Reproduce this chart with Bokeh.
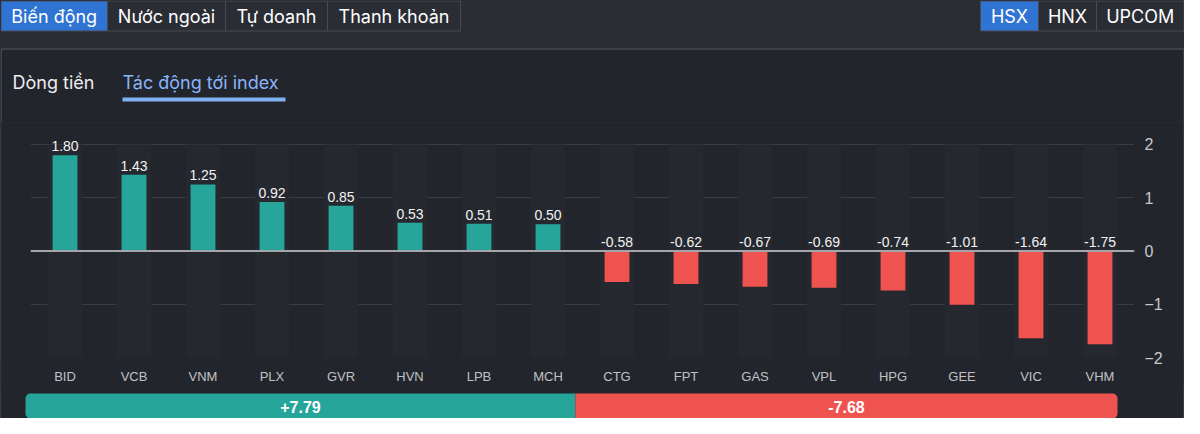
from bokeh.plotting import figure
from bokeh.layouts import column, row
from bokeh.models import Range1d, FactorRange, FixedTicker, ColumnDataSource, Span
from bokeh.core.properties import value
from bokeh.embed import file_html
from bokeh.resources import INLINE

# ---------------- data ----------------
tickers = ["BID", "VCB", "VNM", "PLX", "GVR", "HVN", "LPB", "MCH",
           "CTG", "FPT", "GAS", "VPL", "HPG", "GEE", "VIC", "VHM"]
impact = [1.80, 1.43, 1.25, 0.92, 0.85, 0.53, 0.51, 0.50,
          -0.58, -0.62, -0.67, -0.69, -0.74, -1.01, -1.64, -1.75]
y_ticks = [-2, -1, 0, 1, 2]
totals = [7.79, -7.68]
top_tabs = ["Biến động", "Nước ngoài", "Tự doanh", "Thanh khoản"]
exchange_tabs = ["HSX", "HNX", "UPCOM"]
sub_tabs = ["Dòng tiền", "Tác động tới index"]

# ---------------- style ----------------
OUTER = "#2b2d34"
INNER = "#23252c"
LINE = "#474a52"
BLUE = "#2f73d3"
GREEN = "#26a69a"
RED = "#ef5350"
UI_FONT = value("Inter")
CH_FONT = value("Liberation Sans")
W = 1184
HH = 122   # header height
CH = 265   # chart height
FH = 31    # footer height


def blank(width, height, xr, yr, bg):
    f = figure(width=width, height=height, x_range=xr, y_range=yr,
               x_axis_location=None, y_axis_location=None,
               toolbar_location=None, output_backend="svg", min_border=0)
    f.grid.visible = False
    f.outline_line_color = None
    f.background_fill_color = bg
    f.border_fill_color = bg
    return f


# ---------------- header ----------------
hdr = blank(W, HH, Range1d(0, W), Range1d(HH, 0), OUTER)
hdr.quad(left=0, right=W, top=48, bottom=HH, fill_color=INNER, line_color=None)
hdr.segment(x0=0.5, y0=48.5, x1=W - 0.5, y1=48.5, line_color=LINE, line_width=1.5)
hdr.segment(x0=0.5, y0=48.5, x1=0.5, y1=HH, line_color=LINE, line_width=1.5)
hdr.segment(x0=W - 0.5, y0=48.5, x1=W - 0.5, y1=HH, line_color=LINE, line_width=1.5)

edges = [0.5, 107, 225, 327, 460]
tab_src = ColumnDataSource(dict(
    l=edges[:-1], r=edges[1:],
    c=[(a + b) / 2 for a, b in zip(edges[:-1], edges[1:])],
    fill=[BLUE] + [OUTER] * (len(top_tabs) - 1),
    t=top_tabs))
hdr.quad(left="l", right="r", top=0.5, bottom=30.5, fill_color="fill",
         line_color=LINE, line_width=1, source=tab_src)
hdr.text(x="c", y=15.5, text="t", source=tab_src, text_align="center",
         text_baseline="middle", text_font=UI_FONT, text_font_size="18px",
         text_color="#ffffff")

edges2 = [980, 1038, 1096, W - 0.5]
ex_src = ColumnDataSource(dict(
    l=edges2[:-1], r=edges2[1:],
    c=[(a + b) / 2 for a, b in zip(edges2[:-1], edges2[1:])],
    fill=[BLUE] + [OUTER] * (len(exchange_tabs) - 1),
    t=exchange_tabs))
hdr.quad(left="l", right="r", top=0.5, bottom=30.5, fill_color="fill",
         line_color=LINE, line_width=1, source=ex_src)
hdr.text(x="c", y=15.5, text="t", source=ex_src, text_align="center",
         text_baseline="middle", text_font=UI_FONT, text_font_size="18px",
         text_color="#ffffff")

hdr.text(x=[12, 122], y=[82, 82], text=sub_tabs, text_align="left",
         text_baseline="middle", text_font=UI_FONT, text_font_size="18px",
         text_color=["#eeeeee", "#8ab4f8"])
hdr.quad(left=122, right=285, top=97, bottom=101, fill_color="#7fb1f2",
         line_color=None)

# ---------------- chart ----------------
colors = [GREEN if v >= 0 else RED for v in impact]
labels = [f"{v:.2f}" for v in impact]
label_y = [max(v, 0) for v in impact]
src = ColumnDataSource(dict(t=tickers, v=impact, c=colors, lbl=labels, ly=label_y))

ch = figure(width=W - 2, height=CH, x_range=FactorRange(factors=tickers),
            y_range=Range1d(y_ticks[0], y_ticks[-1] + 0.3), y_axis_location="right",
            toolbar_location=None, output_backend="svg",
            min_border_left=29, min_border_right=49,
            min_border_top=6, min_border_bottom=30)
ch.background_fill_color = INNER
ch.border_fill_color = INNER
ch.outline_line_color = None
ch.xgrid.visible = False
ch.ygrid.ticker = FixedTicker(ticks=y_ticks)
ch.ygrid.grid_line_color = "#393c43"
ch.ygrid.grid_line_width = 1

ch.vbar(x=tickers, top=y_ticks[-1], bottom=y_ticks[0], width=0.5,
        fill_color="#26282f", line_color=None)
ch.vbar(x="t", top="v", width=0.36, fill_color="c", line_color=None, source=src)
ch.add_layout(Span(location=0, dimension="width", line_color="#a4a6ac",
                   line_width=2))
ch.text(x="t", y="ly", text="lbl", source=src, text_align="center",
        text_baseline="bottom", y_offset=-4, text_font=CH_FONT,
        text_font_size="14px", text_color="#f2f2f2")

ya = ch.yaxis[0]
ya.ticker = FixedTicker(ticks=y_ticks)
ya.axis_line_color = None
ya.major_tick_line_color = None
ya.minor_tick_line_color = None
ya.major_label_standoff = 4
ya.major_label_text_font = "Liberation Sans"
ya.major_label_text_font_size = "16px"
ya.major_label_text_color = "#c8c9cd"

xa = ch.xaxis[0]
xa.axis_line_color = None
xa.major_tick_line_color = None
xa.minor_tick_line_color = None
xa.major_label_standoff = 5
xa.major_label_text_font = "Liberation Sans"
xa.major_label_text_font_size = "13px"
xa.major_label_text_color = "#c0c1c5"

# ---------------- footer ----------------
pos_total, neg_total = totals[0], -totals[1]
span_total = pos_total + neg_total
fw = W - 2
bar_l, bar_r = 24, 1116
scale = (bar_r - bar_l) / span_total
ft = blank(fw, FH, Range1d(-bar_l / scale, span_total + (fw - bar_r) / scale),
           Range1d(FH, 0), INNER)
ft.quad(left=0, right=pos_total, top=6, bottom=FH, fill_color=GREEN,
        line_color=None, border_radius=(5, 0, 0, 5))
ft.quad(left=pos_total, right=span_total, top=6, bottom=FH, fill_color=RED,
        line_color=None, border_radius=(0, 5, 5, 0))
ft.text(x=[pos_total / 2, pos_total + neg_total / 2], y=[19, 19],
        text=[f"+{totals[0]:.2f}", f"{totals[1]:.2f}"], text_align="center",
        text_baseline="middle", text_font=CH_FONT, text_font_size="16px",
        text_font_style="bold", text_color="#ffffff")

# ---------------- side borders ----------------
def strip(h):
    return blank(1, h, Range1d(0, 1), Range1d(0, 1), LINE)

layout = column(hdr,
                row(strip(CH), ch, strip(CH)),
                row(strip(FH), ft, strip(FH)))
layout.styles = {"background-color": OUTER}

html = file_html(layout, INLINE)
html = html.replace("<body", f'<body style="background-color:{OUTER};"', 1)
open("out.html", "w").write(html)
